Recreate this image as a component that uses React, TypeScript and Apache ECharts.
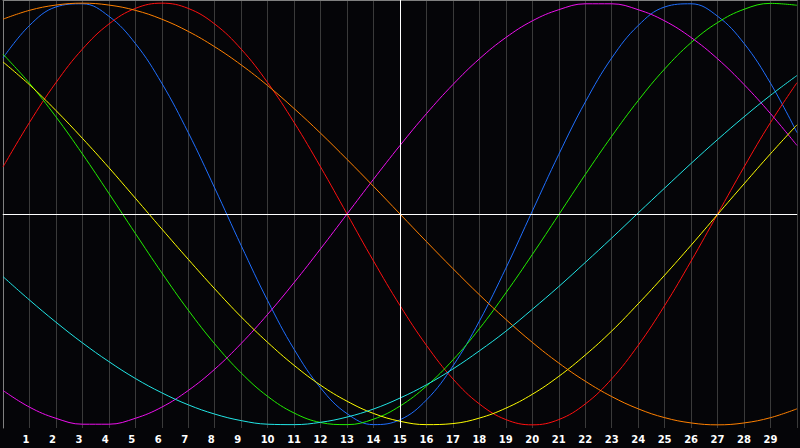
import React, { useEffect, useRef } from "react";
import * as echarts from "echarts";

const days = [0,1,2,3,4,5,6,7,8,9,10,11,12,13,14,15,16,17,18,19,20,21,22,23,24,25,26,27,28,29,30];
const tickLabels = ["1","2","3","4","5","6","7","8","9","10","11","12","13","14","15","16","17","18","19","20","21","22","23","24","25","26","27","28","29"];

const blueVals = [0.740,0.894,0.982,0.997,0.938,0.809,0.620,0.386,0.123,-0.150,-0.411,-0.642,-0.825,-0.947,-0.999,-0.976,-0.882,-0.721,-0.508,-0.257,0.014,0.283,0.531,0.740,0.894,0.982,0.997,0.938,0.809,0.620,0.386];
const redVals = [0.223,0.434,0.623,0.782,0.901,0.975,1.000,0.975,0.901,0.782,0.623,0.434,0.223,0.000,-0.223,-0.434,-0.623,-0.782,-0.901,-0.975,-1.000,-0.975,-0.901,-0.782,-0.623,-0.434,-0.223,0.000,0.223,0.434,0.623];
const greenVals = [0.758,0.620,0.461,0.285,0.098,-0.092,-0.279,-0.456,-0.616,-0.754,-0.865,-0.944,-0.989,-0.999,-0.973,-0.911,-0.816,-0.692,-0.544,-0.374,-0.192,-0.003,0.187,0.369,0.538,0.688,0.813,0.908,0.971,0.999,0.990];
const magentaVals = [-0.837,-0.916,-0.969,-0.997,-0.997,-0.969,-0.916,-0.837,-0.736,-0.614,-0.476,-0.325,-0.165,0.000,0.165,0.325,0.476,0.614,0.736,0.837,0.916,0.969,0.997,0.997,0.969,0.916,0.837,0.736,0.614,0.476,0.325];
const yellowVals = [0.721,0.613,0.491,0.359,0.220,0.075,-0.071,-0.215,-0.355,-0.488,-0.609,-0.718,-0.812,-0.888,-0.946,-0.983,-0.999,-0.994,-0.968,-0.921,-0.855,-0.770,-0.669,-0.555,-0.426,-0.290,-0.148,-0.002,0.143,0.286,0.423];
const orangeVals = [0.924,0.966,0.991,1.000,0.991,0.966,0.924,0.866,0.793,0.707,0.609,0.500,0.383,0.259,0.131,0.000,-0.131,-0.259,-0.383,-0.500,-0.609,-0.707,-0.793,-0.866,-0.924,-0.966,-0.991,-1.000,-0.991,-0.966,-0.924];
const cyanVals = [-0.297,-0.408,-0.513,-0.611,-0.700,-0.780,-0.848,-0.905,-0.949,-0.980,-0.997,-0.999,-0.988,-0.963,-0.925,-0.873,-0.810,-0.735,-0.649,-0.556,-0.452,-0.344,-0.230,-0.114,0.005,0.123,0.240,0.353,0.461,0.563,0.657];

const seriesDefs = [
  { name: "blue", color: "#1f6fff", vals: blueVals },
  { name: "red", color: "#ff1010", vals: redVals },
  { name: "green", color: "#22ee00", vals: greenVals },
  { name: "magenta", color: "#ee10ee", vals: magentaVals },
  { name: "yellow", color: "#ffff00", vals: yellowVals },
  { name: "orange", color: "#ff8000", vals: orangeVals },
  { name: "cyan", color: "#22e6e6", vals: cyanVals },
];

export default function App() {
  const ref = useRef<HTMLDivElement>(null);
  useEffect(() => {
    document.body.style.margin = "0";
    document.body.style.background = "#050508";
    const chart = echarts.init(ref.current!, null, { renderer: "svg" });
    const lines: any[] = seriesDefs.map((s) => ({
      name: s.name,
      type: "line",
      data: days.map((d, i) => [d, s.vals[i]]),
      smooth: 0.4,
      showSymbol: false,
      symbol: "none",
      lineStyle: { color: s.color, width: 1 },
      z: 3,
      silent: true,
    }));
    lines.unshift({
      name: "axes",
      type: "line",
      data: [],
      z: 2,
      silent: true,
      markLine: {
        silent: true,
        symbol: ["none", "none"],
        label: { show: false },
        lineStyle: { color: "#ffffff", width: 1, type: "solid" },
        data: [{ yAxis: 0 }, { xAxis: 15 }],
      },
    });
    chart.setOption({
      animation: false,
      backgroundColor: "#050508",
      grid: { left: 0, right: 0, top: 0, bottom: 20 },
      xAxis: [
        {
          type: "value",
          min: 0,
          max: 30,
          interval: 1,
          position: "bottom",
          axisLine: { show: true, lineStyle: { color: "#a0a0a0", width: 1 } },
          axisTick: { show: false },
          splitLine: { show: true, lineStyle: { color: "#3a3a3a", width: 1 } },
          axisLabel: {
            show: true,
            color: "#ffffff",
            fontWeight: "bold",
            fontSize: 10,
            fontFamily: "DejaVu Sans",
            margin: 5,
            formatter: (v: number) =>
              v >= 1 && v <= tickLabels.length ? "{t|" + tickLabels[v - 1] + "}" : "",
            rich: {
              t: {
                width: 14,
                align: "left",
                color: "#ffffff",
                fontWeight: "bold",
                fontSize: 10,
                lineHeight: 12,
                fontFamily: "DejaVu Sans",
              },
            },
          },
        },
        {
          type: "value",
          min: 0,
          max: 30,
          position: "top",
          axisLine: { show: true, lineStyle: { color: "#808080", width: 1 } },
          axisTick: { show: false },
          axisLabel: { show: false },
          splitLine: { show: false },
        },
      ],
      yAxis: {
        type: "value",
        min: -1.015,
        max: 1.015,
        axisLine: { show: true, lineStyle: { color: "#808080", width: 1 } },
        axisTick: { show: false },
        axisLabel: { show: false },
        splitLine: { show: false },
      },
      series: lines,
    });
    return () => chart.dispose();
  }, []);
  return <div ref={ref} style={{ width: 800, height: 448 }} />;
}
